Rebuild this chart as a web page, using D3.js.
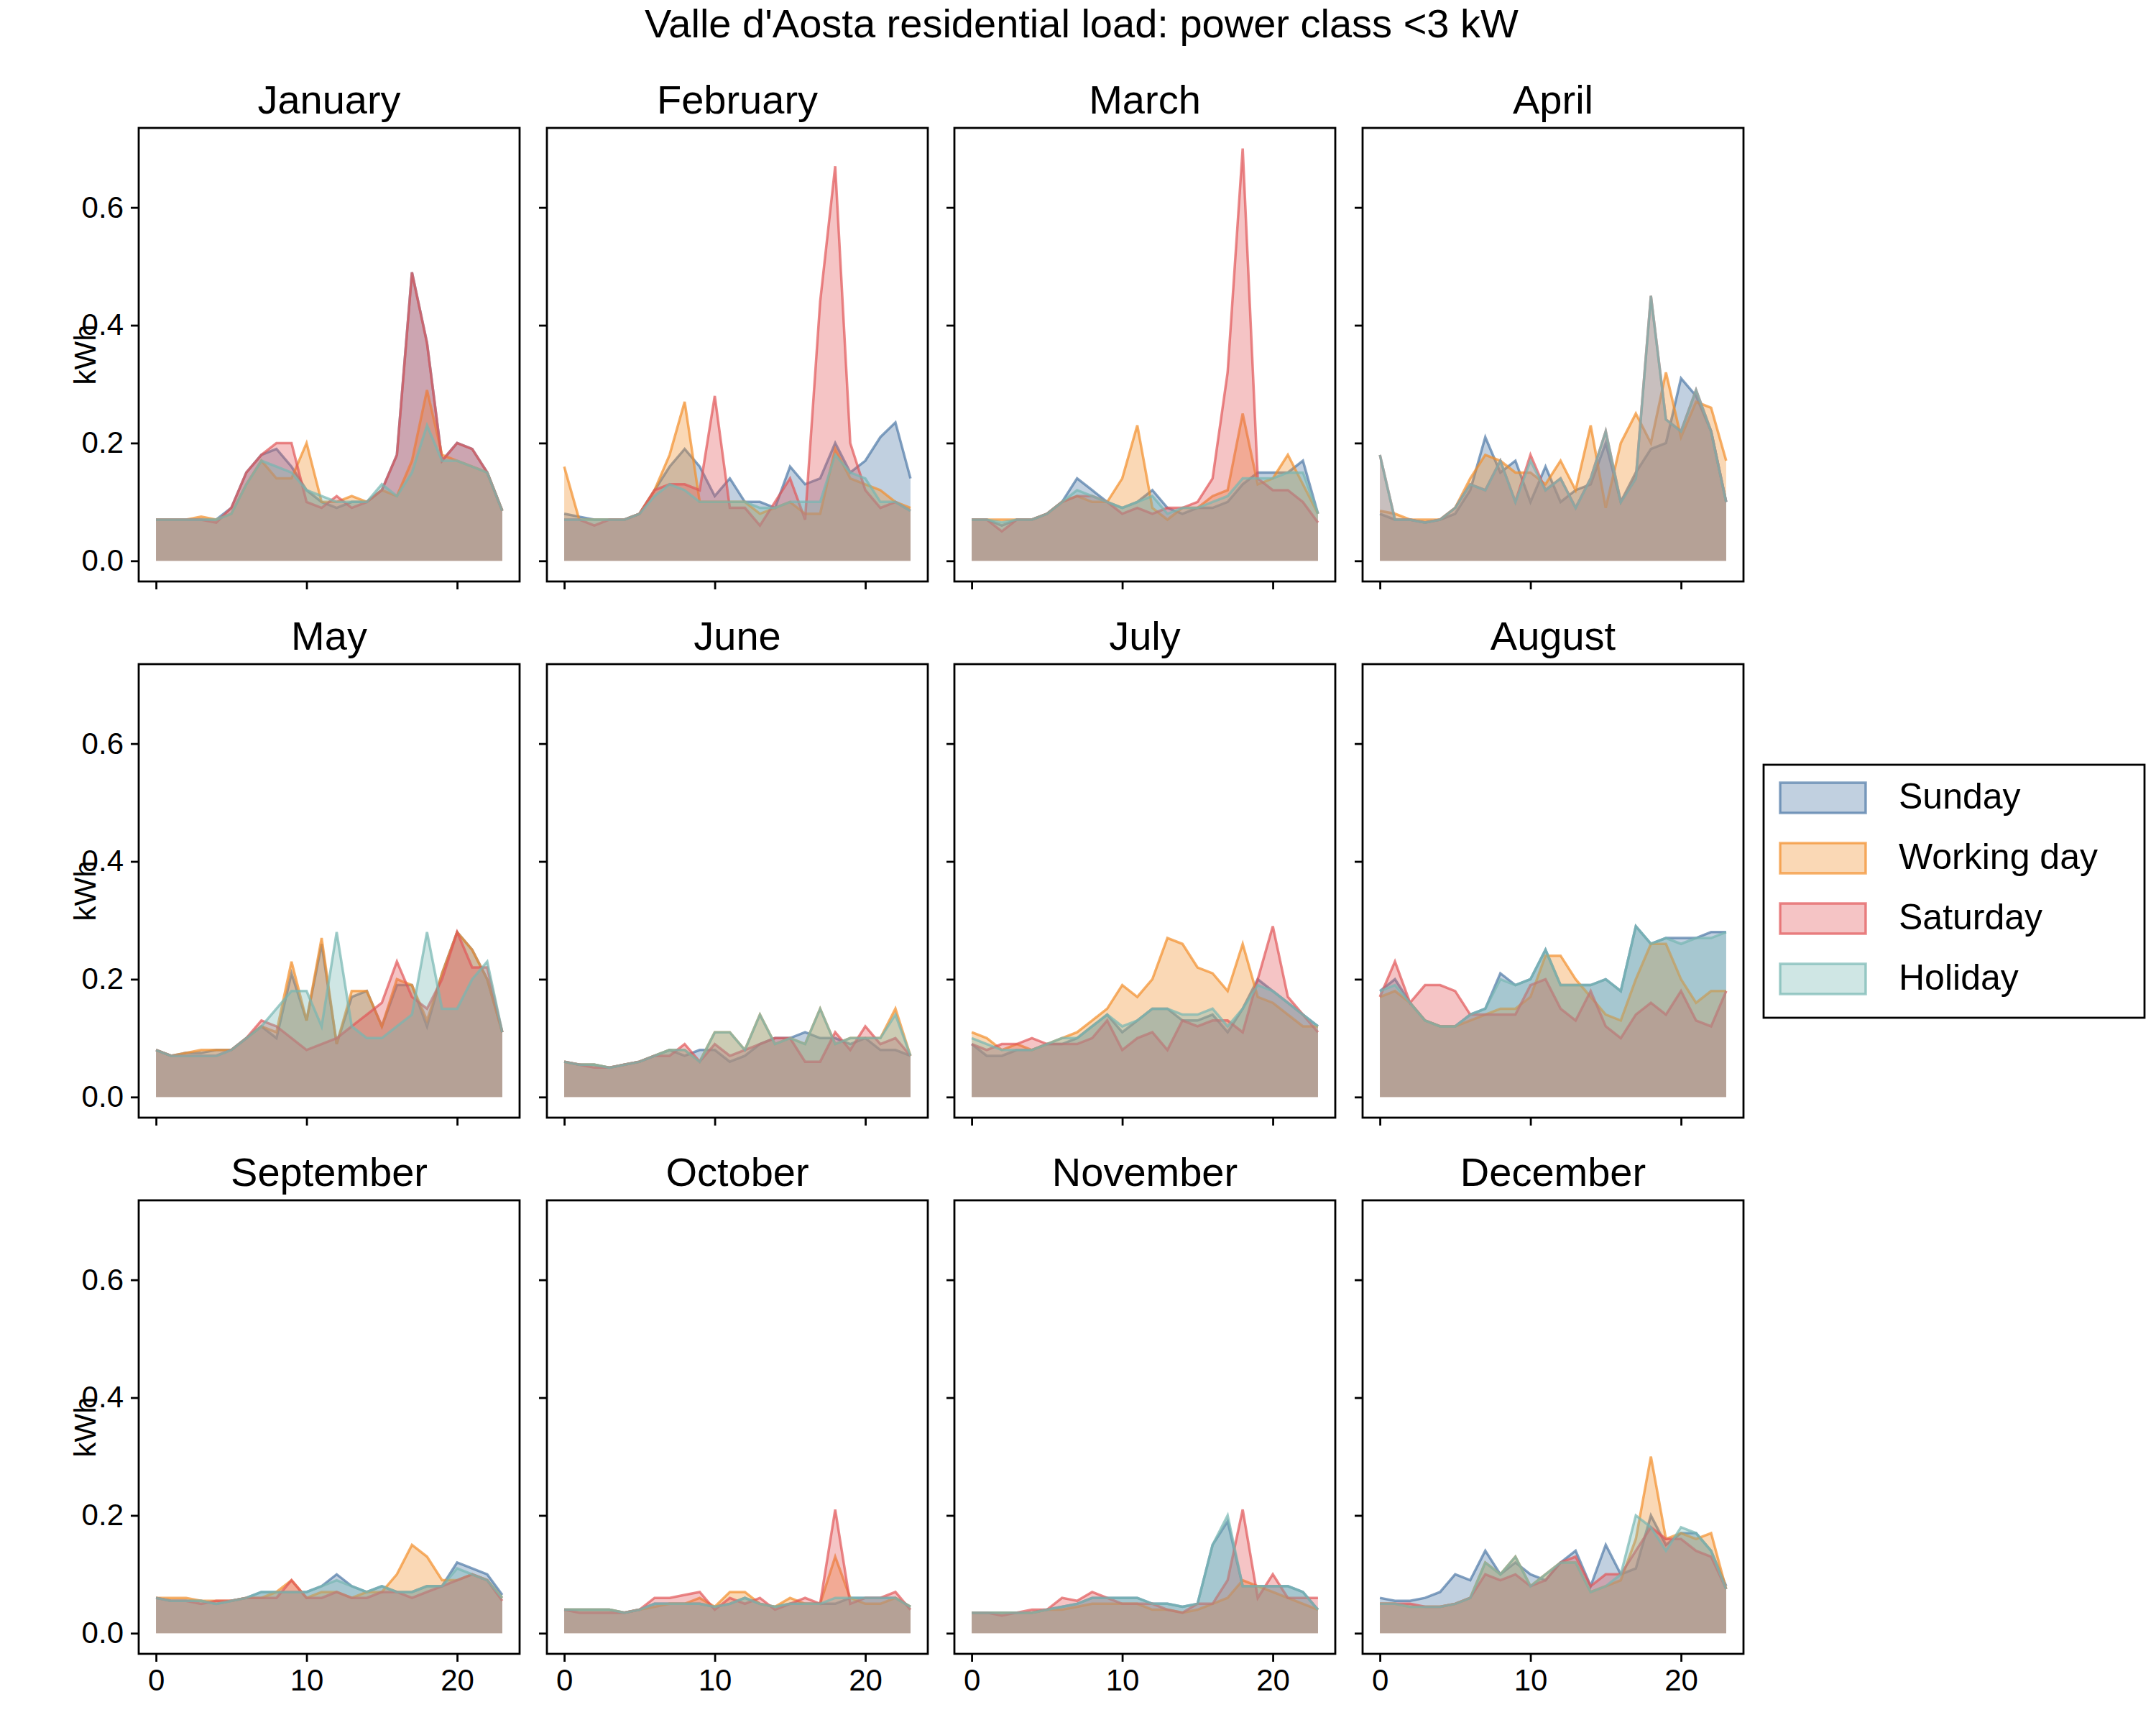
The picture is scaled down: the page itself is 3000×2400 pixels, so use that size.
<!DOCTYPE html>
<html><head><meta charset="utf-8">
<script src="https://cdn.jsdelivr.net/npm/d3@7"></script>
<style>body{margin:0;background:#fff}</style>
</head><body>
<svg id="chart" width="3000" height="2400"></svg>
<script>
// data
var months = ["January","February","March","April","May","June","July","August","September","October","November","December"];
var seriesNames = ["Sunday","Working day","Saturday","Holiday"];
var hours = d3.range(24);
var yTicks = [0.0, 0.2, 0.4, 0.6];
var xTicks = [0, 10, 20];

var sunday = [
 [.07,.07,.07,.07,.07,.09,.15,.18,.19,.16,.12,.1,.09,.1,.1,.12,.18,.49,.37,.17,.2,.19,.15,.085],
 [.08,.075,.07,.07,.07,.08,.12,.16,.19,.16,.11,.14,.1,.1,.09,.16,.13,.14,.2,.15,.17,.21,.235,.14],
 [.07,.07,.06,.07,.07,.08,.1,.14,.12,.1,.09,.1,.12,.09,.08,.09,.09,.1,.13,.15,.15,.15,.17,.08],
 [.08,.07,.07,.065,.07,.08,.12,.21,.15,.17,.1,.16,.1,.12,.13,.2,.1,.15,.19,.2,.31,.28,.22,.1],
 [.08,.07,.075,.075,.08,.08,.1,.12,.1,.21,.13,.26,.09,.17,.18,.12,.19,.19,.12,.21,.28,.25,.2,.11],
 [.06,.055,.055,.05,.055,.06,.07,.08,.07,.08,.08,.06,.07,.09,.1,.1,.11,.1,.1,.09,.1,.08,.08,.07],
 [.09,.07,.07,.08,.08,.09,.09,.1,.12,.14,.11,.13,.15,.15,.13,.13,.14,.11,.15,.2,.18,.16,.14,.12],
 [.18,.2,.16,.13,.12,.12,.14,.15,.21,.19,.2,.25,.19,.19,.19,.2,.18,.29,.26,.27,.27,.27,.28,.28],
 [.06,.055,.055,.055,.05,.055,.06,.07,.07,.07,.07,.08,.1,.08,.07,.08,.07,.07,.08,.08,.12,.11,.1,.065],
 [.04,.04,.04,.04,.035,.04,.05,.05,.05,.05,.045,.05,.06,.05,.045,.05,.05,.05,.05,.06,.06,.06,.06,.045],
 [.035,.035,.035,.035,.035,.04,.045,.05,.06,.06,.06,.06,.05,.05,.045,.05,.15,.19,.08,.08,.08,.08,.07,.04],
 [.06,.055,.055,.06,.07,.1,.09,.14,.1,.12,.1,.09,.12,.14,.08,.15,.1,.11,.2,.15,.17,.17,.14,.08]
];
var working = [
 [.07,.07,.07,.075,.07,.08,.13,.17,.14,.14,.2,.1,.1,.11,.1,.12,.11,.17,.29,.18,.17,.16,.15,.085],
 [.16,.07,.07,.07,.07,.08,.12,.18,.27,.1,.1,.1,.1,.08,.09,.1,.08,.08,.19,.14,.13,.12,.1,.09],
 [.07,.07,.07,.07,.07,.08,.1,.11,.1,.1,.14,.23,.09,.07,.09,.09,.11,.12,.25,.13,.14,.18,.13,.08],
 [.085,.08,.07,.07,.07,.09,.14,.18,.17,.15,.15,.13,.17,.12,.23,.09,.2,.25,.2,.32,.21,.27,.26,.17],
 [.08,.07,.075,.08,.08,.08,.1,.12,.11,.23,.13,.27,.09,.18,.18,.12,.2,.19,.13,.21,.28,.25,.2,.11],
 [.06,.055,.055,.05,.055,.06,.07,.08,.08,.06,.11,.11,.08,.14,.09,.1,.09,.15,.09,.1,.1,.1,.15,.07],
 [.11,.1,.08,.09,.08,.09,.1,.11,.13,.15,.19,.17,.2,.27,.26,.22,.21,.18,.26,.17,.16,.14,.12,.12],
 [.17,.18,.16,.13,.12,.12,.13,.14,.15,.15,.17,.24,.24,.2,.17,.14,.13,.2,.26,.26,.2,.16,.18,.18],
 [.06,.06,.06,.055,.055,.055,.06,.06,.07,.09,.06,.07,.07,.06,.07,.07,.1,.15,.13,.09,.09,.1,.09,.06],
 [.04,.04,.04,.04,.035,.04,.045,.05,.05,.06,.045,.07,.07,.05,.045,.06,.05,.05,.13,.06,.05,.05,.06,.045],
 [.035,.035,.035,.035,.035,.04,.04,.045,.05,.05,.05,.05,.04,.04,.035,.04,.05,.06,.09,.08,.07,.06,.05,.04],
 [.05,.05,.045,.045,.045,.05,.06,.12,.1,.13,.08,.1,.12,.12,.07,.08,.09,.16,.3,.16,.17,.16,.17,.075]
];
var saturday = [
 [.07,.07,.07,.07,.065,.09,.15,.18,.2,.2,.1,.09,.11,.09,.1,.12,.18,.49,.37,.17,.2,.19,.15,.085],
 [.07,.07,.06,.07,.07,.08,.12,.13,.13,.12,.28,.09,.09,.06,.1,.14,.07,.44,.67,.2,.12,.09,.1,.085],
 [.07,.07,.05,.07,.07,.08,.1,.11,.11,.1,.08,.09,.08,.09,.09,.1,.14,.32,.7,.14,.12,.12,.1,.065],
 [.18,.07,.07,.065,.07,.09,.13,.12,.17,.1,.18,.12,.14,.09,.14,.22,.1,.14,.45,.24,.22,.29,.22,.1],
 [.08,.07,.07,.07,.07,.08,.1,.13,.12,.1,.08,.09,.1,.12,.14,.16,.23,.17,.15,.2,.28,.22,.22,.11],
 [.06,.055,.05,.05,.055,.06,.07,.07,.09,.06,.09,.07,.08,.09,.1,.1,.06,.06,.11,.08,.12,.09,.1,.07],
 [.09,.08,.09,.09,.1,.09,.09,.09,.1,.13,.08,.1,.11,.08,.13,.12,.13,.13,.11,.2,.29,.17,.14,.11],
 [.17,.23,.16,.19,.19,.18,.14,.14,.14,.14,.19,.2,.15,.13,.18,.12,.1,.14,.16,.14,.18,.13,.12,.18],
 [.06,.055,.055,.05,.055,.055,.06,.06,.06,.09,.06,.06,.07,.06,.06,.07,.07,.06,.07,.08,.09,.1,.09,.055],
 [.04,.035,.035,.035,.035,.04,.06,.06,.065,.07,.04,.06,.05,.06,.04,.05,.06,.05,.21,.05,.06,.06,.07,.04],
 [.035,.035,.03,.035,.04,.04,.06,.055,.07,.06,.05,.05,.05,.04,.035,.05,.05,.09,.21,.06,.1,.06,.06,.06],
 [.05,.05,.05,.045,.045,.05,.06,.1,.09,.1,.08,.09,.12,.13,.08,.1,.1,.14,.18,.16,.16,.14,.13,.075]
];
var holiday = [
 [.07,.07,.07,.07,.07,.08,.13,.17,.16,.15,.12,.11,.1,.1,.1,.13,.11,.15,.23,.17,.17,.16,.15,.085],
 [.07,.07,.07,.07,.07,.08,.11,.13,.12,.1,.1,.1,.1,.09,.09,.1,.1,.1,.18,.15,.14,.1,.1,.085],
 [.07,.07,.065,.07,.07,.08,.1,.12,.11,.1,.09,.1,.11,.08,.09,.09,.1,.11,.14,.14,.14,.15,.15,.08],
 [.18,.07,.07,.065,.07,.09,.13,.12,.17,.1,.17,.12,.14,.09,.14,.22,.1,.14,.45,.24,.22,.29,.22,.1],
 [.08,.07,.07,.07,.07,.08,.1,.12,.15,.18,.18,.12,.28,.12,.1,.1,.12,.14,.28,.15,.15,.2,.23,.11],
 [.06,.055,.055,.05,.055,.06,.07,.08,.08,.06,.11,.11,.08,.14,.09,.1,.09,.15,.09,.1,.1,.1,.14,.07],
 [.1,.09,.08,.08,.08,.09,.1,.1,.12,.14,.12,.13,.15,.15,.14,.14,.15,.12,.15,.19,.18,.16,.14,.12],
 [.18,.19,.16,.13,.12,.12,.14,.15,.2,.19,.2,.25,.19,.19,.19,.2,.18,.29,.26,.27,.26,.27,.27,.28],
 [.06,.055,.055,.055,.05,.055,.06,.07,.07,.07,.07,.08,.09,.08,.07,.08,.07,.07,.08,.08,.11,.1,.09,.06],
 [.04,.04,.04,.04,.035,.04,.05,.05,.05,.05,.045,.05,.06,.05,.045,.05,.05,.05,.06,.06,.06,.06,.06,.045],
 [.035,.035,.035,.035,.035,.04,.045,.05,.06,.06,.06,.06,.05,.05,.045,.05,.15,.2,.08,.08,.08,.08,.07,.04],
 [.05,.05,.045,.045,.045,.05,.06,.12,.1,.13,.08,.1,.12,.12,.07,.08,.1,.2,.18,.14,.18,.17,.14,.075]
];
var colors = ["#4e79a7","#f28e2b","#e15759","#76b7b2"];

function main() {
    var svg = d3.select("#chart");
    var font = "Arial, 'Liberation Sans', sans-serif";
    var pw = 530, ph = 631;
    var colX = [193, 761, 1328, 1896];
    var rowY = [178, 924, 1670];
    var all = [sunday, working, saturday, holiday];

    var xScale = d3.scaleLinear().domain([-1.15, 24.15]).range([0, pw]);
    var yScale = d3.scaleLinear().domain([-0.035, 0.735]).range([ph, 0]);

    svg.append("text").attr("x", 1505).attr("y", 52)
        .attr("text-anchor", "middle").style("font-family", font).style("font-size", "56px")
        .text("Valle d'Aosta residential load: power class <3 kW");

    var area = d3.area().x((d, i) => xScale(i)).y0(yScale(0)).y1(d => yScale(d));
    var line = d3.line().x((d, i) => xScale(i)).y(d => yScale(d));

    months.forEach(function(m, mi) {
        var r = Math.floor(mi / 4), c = mi % 4;
        var g = svg.append("g").attr("transform", "translate(" + colX[c] + "," + rowY[r] + ")");

        all.forEach(function(s, si) {
            g.append("path").datum(s[mi]).attr("d", area)
                .attr("fill", colors[si]).attr("fill-opacity", 0.35);
            g.append("path").datum(s[mi]).attr("d", line)
                .attr("fill", "none").attr("stroke", colors[si])
                .attr("stroke-opacity", 0.7).attr("stroke-width", 3.5);
        });

        var xa = g.append("g").attr("transform", "translate(0," + ph + ")")
            .call(d3.axisBottom(xScale).tickValues(xTicks).tickSize(11).tickPadding(10)
                .tickFormat(r == 2 ? d3.format("d") : ""));
        var ya = g.append("g")
            .call(d3.axisLeft(yScale).tickValues(yTicks).tickSize(11).tickPadding(10)
                .tickFormat(c == 0 ? d3.format(".1f") : ""));
        [xa, ya].forEach(function(a) {
            a.select(".domain").remove();
            a.selectAll("line").attr("stroke-width", 2.8);
            a.selectAll("text").style("font-family", font).style("font-size", "42px").attr("fill", "#000");
        });

        g.append("rect").attr("width", pw).attr("height", ph)
            .attr("fill", "none").attr("stroke", "#000").attr("stroke-width", 2.8);

        g.append("text").attr("x", pw / 2).attr("y", -20).attr("text-anchor", "middle")
            .style("font-family", font).style("font-size", "56px").text(m);

        if (c == 0) {
            g.append("text").attr("transform", "translate(-60," + (ph / 2) + ") rotate(-90)")
                .attr("text-anchor", "middle").style("font-family", font).style("font-size", "42px")
                .text("kWh");
        }
    });

    // legend
    var lg = svg.append("g").attr("transform", "translate(2454,1064)");
    lg.append("rect").attr("width", 530).attr("height", 352)
        .attr("fill", "#fff").attr("stroke", "#000").attr("stroke-width", 2.8);
    seriesNames.forEach(function(n, i) {
        var y = 46 + i * 84;
        lg.append("rect").attr("x", 23).attr("y", y - 21).attr("width", 119).attr("height", 42)
            .attr("fill", colors[i]).attr("fill-opacity", 0.35)
            .attr("stroke", colors[i]).attr("stroke-opacity", 0.7).attr("stroke-width", 3.5);
        lg.append("text").attr("x", 188).attr("y", y + 15)
            .style("font-family", font).style("font-size", "50px").text(n);
    });
}
main();
</script>
</body></html>
